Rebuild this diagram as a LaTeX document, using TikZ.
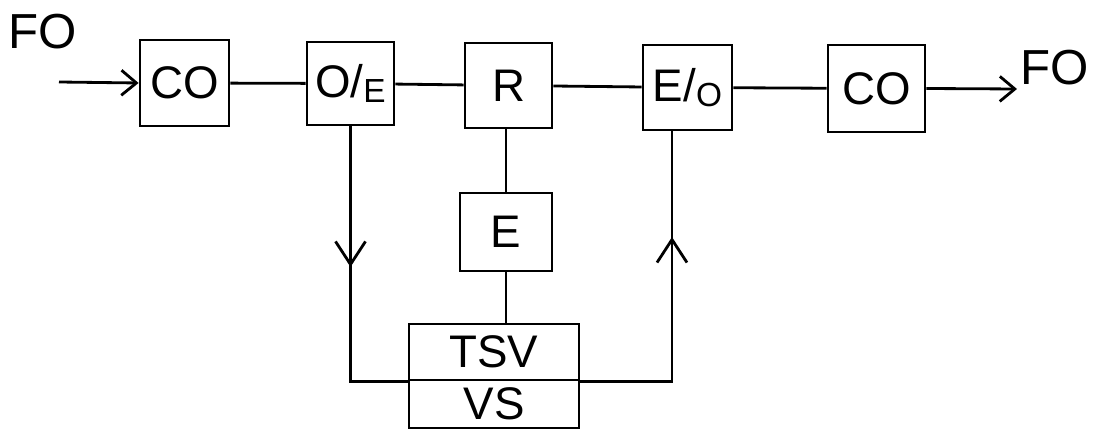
\documentclass[tikz,border=0pt]{standalone}
\usepackage{fontspec}
\setmainfont{Liberation Sans}
\usetikzlibrary{arrows.meta, positioning}

\begin{document}
\begin{tikzpicture}[
        box/.style={draw, line width=1.6pt, inner sep=0pt, align=center, font=\fontsize{26}{30}\selectfont},
        wire/.style={line width=1.6pt},
        arr/.style={line width=1.6pt, -{Straight Barb[length=3mm, width=5mm, line width=1.6pt]}},
        barb/.style={line width=1.6pt, -{Straight Barb[length=4.6mm, width=6mm, line width=1.6pt]}},
        lbl/.style={inner sep=0pt, font=\fontsize{28}{32}\selectfont}
    ]
        \useasboundingbox (0,0) rectangle (22.04,8.66);
        % top chain
        \node[lbl] (fin) at (0.86,8.02) {FO};
        \node[box, minimum width=1.78cm, minimum height=1.72cm] (co1) at (3.69,7.0) {CO};
        \node[box, minimum width=1.74cm, minimum height=1.66cm] (oe) at (7.01,6.99) {O/\raisebox{-0.12em}{\fontsize{19}{20}\selectfont E}};
        \node[box, minimum width=1.74cm, minimum height=1.7cm] (r) at (10.17,6.95) {R};
        \node[box, minimum width=1.78cm, minimum height=1.7cm] (eo) at (13.75,6.91) {E/\raisebox{-0.12em}{\fontsize{19}{20}\selectfont O}};
        \node[box, minimum width=1.94cm, minimum height=1.74cm] (co2) at (17.53,6.89) {CO};
        \node[lbl] (fout) at (21.1,7.3) {FO};
        % lower part
        \node[box, minimum width=1.84cm, minimum height=1.56cm] (e) at (10.12,4.02) {E};
        \node[box, minimum width=3.4cm, minimum height=1.12cm] (tsv) at (9.88,1.62) {TSV};
        \node[box, minimum width=3.4cm, minimum height=0.96cm] (vs) at (9.88,0.58) {VS};
        \coordinate (in) at (1.18,7.02);
        \coordinate (outend) at (20.34,6.88);
        \coordinate (dn) at (7.01,3.32);
        \coordinate (uptip) at (13.44,3.92);
        \draw[arr] (in) -- (co1.west);
        \draw[wire] (co1) -- (oe);
        \draw[wire] (oe) -- (r);
        \draw[wire] (r) -- (eo);
        \draw[wire] (eo) -- (co2);
        \draw[arr] (co2.east) -- (outend);
        \draw[wire] (e.north) -- (e.north |- r.south);
        \draw[wire] (e.south) -- (e.south |- tsv.north);
        \draw[wire] (oe.south) |- (tsv.south west);
        \draw[barb] (oe.south) -- (dn);
        \draw[wire] (tsv.south east) -| (eo.south -| uptip);
        \draw[barb] (tsv.south east -| uptip) -- (uptip);
    \end{tikzpicture}
\end{document}
